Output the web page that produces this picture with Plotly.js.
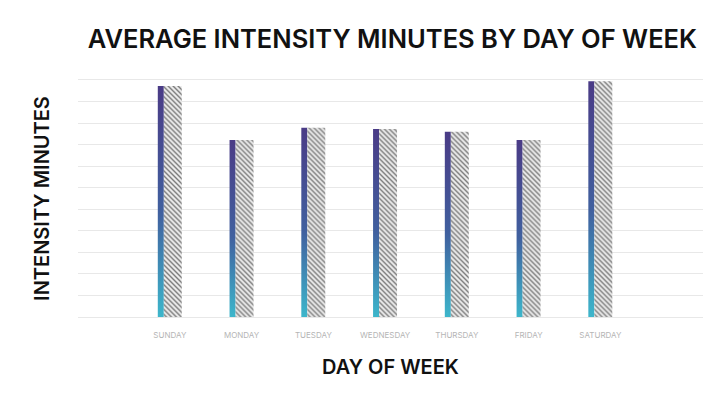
<!DOCTYPE html>
<html>
<head>
<meta charset="utf-8">
<script src="https://cdn.plot.ly/plotly-3.0.1.min.js"></script>
<style>
  body { margin: 0; background: #fff; }
  #chart { width: 720px; height: 403px; }
</style>
</head>
<body>
<div id="chart"></div>
<script>
// average intensity minutes per weekday
let days = ["SUNDAY", "MONDAY", "TUESDAY", "WEDNESDAY", "THURSDAY", "FRIDAY", "SATURDAY"]
let minutes = [53.6, 41.1, 43.9, 43.6, 43.0, 41.1, 54.7]

function plotChart(){
  let front = {
    x: days, y: minutes, type: 'bar',
    offset: -0.168, width: 0.084,
    marker: {color: '#4a3f88', line: {width: 0}},
    hoverinfo: 'x+y'
  }
  let side = {
    x: days, y: minutes, type: 'bar',
    offset: -0.084, width: 0.25,
    marker: {
      color: '#ececec',
      line: {width: 0},
      pattern: {shape: '\\', fgcolor: '#7a7a7a', bgcolor: '#ececec', size: 3.5, solidity: 0.4}
    },
    hoverinfo: 'x+y'
  }
  let layout = {
    width: 720, height: 403,
    margin: {l: 78, r: 17, t: 80, b: 86},
    barmode: 'overlay',
    showlegend: false,
    paper_bgcolor: '#fff', plot_bgcolor: '#fff',
    font: {family: 'Inter, sans-serif', color: '#111'},
    title: {
      text: 'AVERAGE INTENSITY MINUTES BY DAY OF WEEK',
      font: {size: 25.5, color: '#111', family: 'Inter, sans-serif', weight: 600},
      x: 0.545, xanchor: 'center', y: 0.903, yanchor: 'middle'
    },
    xaxis: {
      type: 'category',
      range: [-1.28, 7.43],
      showgrid: false, zeroline: false,
      // top and bottom lines stand in for the edge grid lines
      showline: true, mirror: true, linecolor: '#e8e8e8', linewidth: 1,
      ticks: '', ticklabelstandoff: 10,
      tickfont: {size: 8, color: '#b5b5b5'},
      title: {text: 'DAY OF WEEK', font: {size: 20, color: '#111', weight: 600}, standoff: 21}
    },
    yaxis: {
      range: [0, 55], dtick: 5,
      showgrid: true, gridcolor: '#e8e8e8', gridwidth: 1,
      zeroline: false, showline: false,
      showticklabels: false, ticks: '',
      title: {text: 'INTENSITY MINUTES', font: {size: 20, color: '#111', weight: 600}, standoff: 22}
    }
  }
  Plotly.newPlot('chart', [front, side], layout, {displayModeBar: false}).then(addGradient)
}

// plotly bars have no vertical gradient, so swap the fill of the thin front bars
function addGradient(gd){
  let svg = gd.querySelector('.main-svg')
  let defs = svg.querySelector('defs')
  let ns = 'http://www.w3.org/2000/svg'
  let grad = document.createElementNS(ns, 'linearGradient')
  grad.setAttribute('id', 'intGrad')
  grad.setAttribute('x1', '0'); grad.setAttribute('y1', '0')
  grad.setAttribute('x2', '0'); grad.setAttribute('y2', '1')
  let stops = [['0', '#4a3b86'], ['0.55', '#40609f'], ['1', '#3db6cb']]
  for(let s of stops){
    let st = document.createElementNS(ns, 'stop')
    st.setAttribute('offset', s[0])
    st.setAttribute('stop-color', s[1])
    grad.appendChild(st)
  }
  defs.appendChild(grad)
  let traces = gd.querySelectorAll('.barlayer .trace')
  traces[0].querySelectorAll('path').forEach(function(p){
    p.style.fill = 'url(#intGrad)'
  })
}

plotChart()
</script>
</body>
</html>
